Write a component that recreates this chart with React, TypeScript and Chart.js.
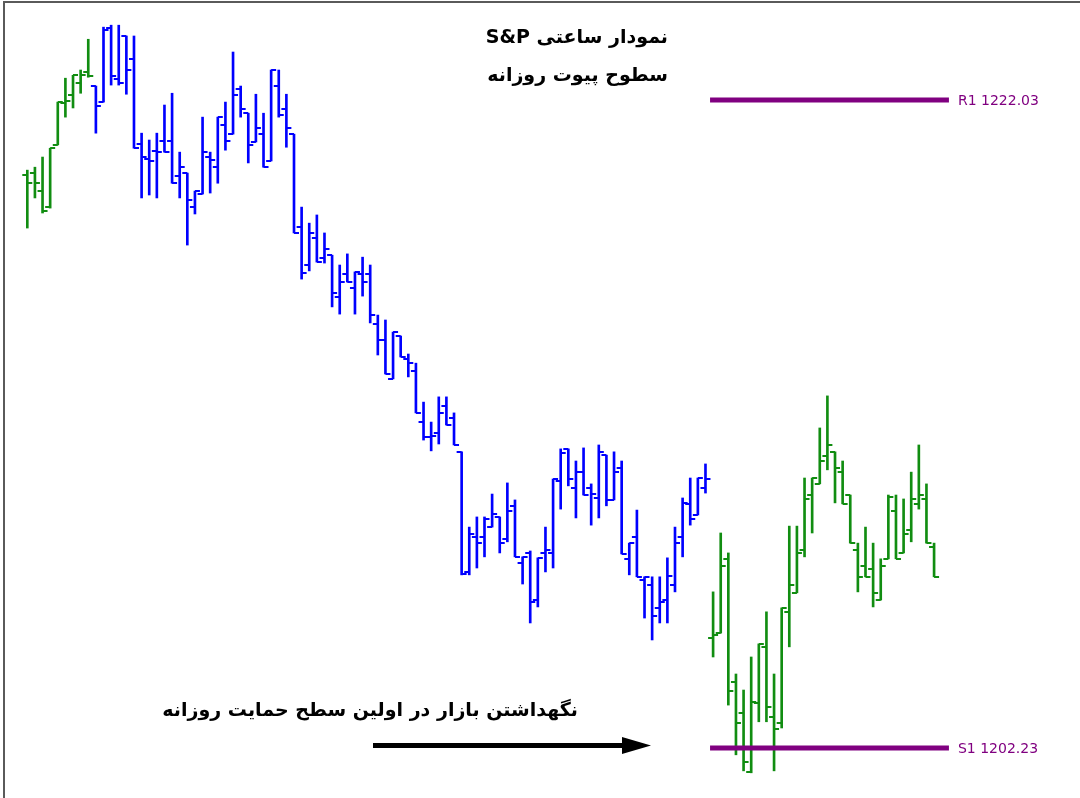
import { useEffect, useRef } from 'react';
import { Chart, registerables } from 'chart.js';

Chart.register(...registerables);

// Hourly S&P bars (price values)
const HIGHS = [
  1219.89, 1219.98, 1220.29, 1220.56, 1221.97, 1222.70, 1222.79, 1222.95, 1223.89, 1222.46,
  1224.26, 1224.32, 1224.32, 1223.99, 1223.99, 1221.02, 1220.81, 1221.02, 1221.88, 1222.24,
  1220.44, 1219.80, 1219.25, 1221.51, 1220.44, 1221.51, 1221.97, 1223.50, 1222.46, 1221.63,
  1222.21, 1221.63, 1222.95, 1222.95, 1222.21, 1220.99, 1218.76, 1218.27, 1218.52, 1217.97,
  1217.29, 1216.99, 1217.33, 1216.78, 1217.23, 1216.99, 1215.46, 1215.31, 1214.94, 1214.82,
  1214.27, 1213.99, 1212.80, 1212.19, 1212.96, 1212.96, 1212.47, 1211.28, 1208.98, 1209.29,
  1209.29, 1209.99, 1209.29, 1210.33, 1209.81, 1208.07, 1208.25, 1208.04, 1208.98, 1210.45,
  1211.37, 1211.37, 1211.00, 1211.40, 1210.30, 1211.49, 1211.18, 1211.28, 1211.00, 1208.49,
  1209.50, 1207.46, 1207.46, 1207.46, 1208.04, 1208.98, 1209.87, 1210.48, 1210.48, 1210.91,
  1207.00, 1208.80, 1208.19, 1204.49, 1204.00, 1205.01, 1205.41, 1206.39, 1204.49, 1206.51,
  1209.01, 1209.01, 1210.48, 1210.48, 1212.01, 1212.99, 1211.28, 1211.00, 1209.96, 1208.49,
  1208.98, 1208.49, 1208.01, 1209.96, 1209.96, 1209.84, 1210.66, 1211.49, 1210.30, 1208.49,
];

const LOWS = [
  1218.12, 1219.04, 1218.58, 1218.73, 1220.66, 1221.51, 1221.79, 1222.24, 1222.73, 1221.02,
  1221.97, 1222.49, 1222.49, 1222.21, 1220.56, 1219.04, 1219.13, 1219.04, 1220.44, 1219.49,
  1219.04, 1217.60, 1218.55, 1219.16, 1219.19, 1219.49, 1220.50, 1220.99, 1221.51, 1220.11,
  1220.75, 1219.98, 1220.17, 1221.51, 1220.59, 1217.97, 1216.56, 1216.81, 1217.08, 1217.05,
  1215.71, 1215.49, 1216.47, 1215.49, 1216.04, 1215.22, 1214.24, 1213.66, 1213.51, 1214.18,
  1213.57, 1212.47, 1211.64, 1211.31, 1211.52, 1212.10, 1211.49, 1207.52, 1207.52, 1207.73,
  1208.07, 1208.98, 1208.19, 1208.53, 1208.07, 1207.24, 1206.05, 1206.54, 1207.61, 1207.73,
  1209.53, 1210.24, 1209.26, 1209.96, 1209.04, 1209.26, 1209.63, 1209.81, 1208.16, 1207.52,
  1207.46, 1206.20, 1205.53, 1206.05, 1206.05, 1207.00, 1208.07, 1209.04, 1209.35, 1210.02,
  1205.01, 1205.74, 1203.54, 1202.02, 1201.53, 1201.47, 1203.03, 1203.03, 1201.53, 1202.84,
  1205.32, 1206.97, 1208.07, 1208.80, 1210.30, 1210.73, 1209.72, 1209.69, 1208.49, 1207.00,
  1207.46, 1206.54, 1206.75, 1208.01, 1208.01, 1208.19, 1208.53, 1209.53, 1208.49, 1207.46,
];

const OPENS = [
  1219.74, 1219.80, 1219.25, 1218.76, 1220.66, 1221.94, 1222.18, 1222.55, 1222.89, 1222.46,
  1221.97, 1224.23, 1222.67, 1223.99, 1223.28, 1220.69, 1220.23, 1220.47, 1220.78, 1220.78,
  1219.71, 1219.80, 1218.76, 1219.16, 1220.29, 1219.98, 1221.27, 1220.99, 1222.37, 1221.63,
  1220.75, 1220.99, 1220.17, 1222.46, 1221.76, 1220.99, 1218.15, 1216.99, 1217.81, 1217.20,
  1217.29, 1216.01, 1216.71, 1216.29, 1216.71, 1216.71, 1215.19, 1214.70, 1213.51, 1214.82,
  1214.12, 1213.75, 1212.19, 1211.73, 1211.86, 1212.68, 1212.31, 1211.28, 1207.61, 1208.68,
  1208.68, 1208.98, 1209.29, 1208.62, 1209.63, 1207.88, 1208.19, 1206.75, 1208.19, 1208.19,
  1210.39, 1211.37, 1210.18, 1210.66, 1210.18, 1209.87, 1211.18, 1209.81, 1210.79, 1208.01,
  1208.68, 1207.36, 1207.21, 1206.51, 1206.75, 1207.21, 1208.68, 1209.69, 1209.35, 1210.18,
  1205.59, 1205.74, 1208.01, 1204.25, 1203.30, 1201.50, 1203.61, 1205.32, 1203.18, 1202.99,
  1206.39, 1206.97, 1208.28, 1209.96, 1210.30, 1211.15, 1211.28, 1210.66, 1209.96, 1208.28,
  1207.79, 1207.70, 1206.75, 1208.01, 1209.47, 1208.19, 1208.89, 1209.69, 1209.84, 1208.37,
];

const CLOSES = [
  1219.49, 1219.49, 1218.64, 1220.56, 1221.97, 1222.00, 1222.79, 1222.79, 1222.76, 1221.85,
  1224.17, 1222.76, 1222.55, 1222.95, 1220.56, 1220.29, 1220.17, 1220.44, 1220.44, 1219.49,
  1219.98, 1218.97, 1219.25, 1220.44, 1220.20, 1221.51, 1220.78, 1222.18, 1221.76, 1220.66,
  1221.18, 1219.98, 1222.95, 1221.57, 1221.18, 1217.97, 1216.74, 1217.97, 1217.08, 1217.48,
  1216.13, 1216.47, 1216.47, 1216.78, 1216.47, 1215.46, 1214.70, 1213.66, 1214.94, 1214.18,
  1213.99, 1212.47, 1211.73, 1211.76, 1212.47, 1212.10, 1211.49, 1207.55, 1208.77, 1208.49,
  1209.23, 1209.38, 1208.49, 1209.47, 1208.07, 1208.07, 1206.69, 1208.04, 1208.28, 1210.45,
  1211.24, 1210.45, 1210.66, 1209.96, 1209.99, 1211.28, 1209.81, 1210.66, 1208.16, 1208.49,
  1207.46, 1207.46, 1206.26, 1206.69, 1207.49, 1208.49, 1209.72, 1209.23, 1210.48, 1210.45,
  1205.68, 1207.79, 1203.97, 1202.99, 1201.80, 1203.64, 1205.41, 1203.48, 1202.81, 1206.51,
  1207.21, 1208.19, 1209.84, 1210.48, 1211.00, 1211.49, 1210.79, 1209.69, 1208.49, 1207.46,
  1207.46, 1206.97, 1207.79, 1209.90, 1208.01, 1208.77, 1209.84, 1209.96, 1208.49, 1207.46,
];

// bars drawn in blue (the rest are green)
const BLUE_BARS = [9, 89];

// daily pivot levels
const PIVOT_LABELS = ['R1', 'S1'];
const PIVOT_VALUES = [1222.03, 1202.23];
const PIVOT_SPAN = [89.6, 120.95];

const TITLE_LINES = ['نمودار ساعتی S&P', 'سطوح پیوت روزانه'];
const NOTE_TEXT = 'نگهداشتن بازار در اولین سطح حمایت روزانه';

const X_MIN = -3.583;
const X_MAX = 138.15;
const Y_MIN = 1200.70;
const Y_MAX = 1225.09;

const GREEN = '#118d11';
const BLUE = '#0000ff';
const PURPLE = '#800080';

export default function App() {
  const ref = useRef<HTMLCanvasElement>(null);

  useEffect(() => {
    const canvas = ref.current;
    if (!canvas) return;
    const colors = HIGHS.map((_, i) => (i >= BLUE_BARS[0] && i <= BLUE_BARS[1] ? BLUE : GREEN));

    const framePlugin = {
      id: 'frame',
      beforeDraw(chart: any) {
        const { ctx } = chart;
        ctx.save();
        ctx.fillStyle = '#ffffff';
        ctx.fillRect(0, 0, chart.width, chart.height);
        ctx.strokeStyle = '#5a5a5a';
        ctx.lineWidth = 2;
        ctx.beginPath();
        ctx.moveTo(4, chart.height);
        ctx.lineTo(4, 2);
        ctx.lineTo(chart.width, 2);
        ctx.stroke();
        ctx.restore();
      },
    };

    const ticksPlugin = {
      id: 'ohlcTicks',
      afterDatasetsDraw(chart: any) {
        const { ctx } = chart;
        const xs = chart.scales.x;
        const ys = chart.scales.y;
        ctx.save();
        ctx.lineWidth = 2;
        ctx.lineCap = 'butt';
        for (let i = 0; i < HIGHS.length; i++) {
          const px = xs.getPixelForValue(i);
          const yo = Math.round(ys.getPixelForValue(OPENS[i]));
          const yc = Math.round(ys.getPixelForValue(CLOSES[i]));
          ctx.strokeStyle = colors[i];
          ctx.beginPath();
          ctx.moveTo(px - 5, yo);
          ctx.lineTo(px, yo);
          ctx.moveTo(px, yc);
          ctx.lineTo(px + 5, yc);
          ctx.stroke();
        }
        ctx.restore();
      },
    };

    const textPlugin = {
      id: 'texts',
      afterDraw(chart: any) {
        const { ctx } = chart;
        const xs = chart.scales.x;
        const ys = chart.scales.y;
        ctx.save();
        // pivot labels
        ctx.font = '14px "DejaVu Sans"';
        ctx.fillStyle = PURPLE;
        ctx.textBaseline = 'middle';
        ctx.textAlign = 'left';
        ctx.direction = 'ltr';
        PIVOT_VALUES.forEach((v, k) => {
          const x = xs.getPixelForValue(PIVOT_SPAN[1]) + 9;
          const y = ys.getPixelForValue(v) + 1.5;
          ctx.fillText(`${PIVOT_LABELS[k]} ${v.toFixed(2)}`, x, y);
        });
        // titles
        ctx.fillStyle = '#000000';
        ctx.font = 'bold 19px "DejaVu Sans"';
        ctx.direction = 'rtl';
        ctx.textAlign = 'right';
        ctx.fillText(TITLE_LINES[0], 668, 38);
        ctx.fillText(TITLE_LINES[1], 668, 76);
        ctx.fillText(NOTE_TEXT, 578, 711);
        // arrow
        ctx.fillStyle = '#000000';
        ctx.fillRect(373, 743, 252, 5);
        ctx.beginPath();
        ctx.moveTo(622, 737);
        ctx.lineTo(651, 745.5);
        ctx.lineTo(622, 754);
        ctx.closePath();
        ctx.fill();
        ctx.restore();
      },
    };

    const chart = new Chart(canvas, {
      type: 'bar',
      data: {
        datasets: [
          {
            type: 'bar',
            data: HIGHS.map((h, i) => ({ x: i, y: [LOWS[i], h] })) as any,
            backgroundColor: colors,
            borderWidth: 0,
            barThickness: 2,
            grouped: false,
            order: 2,
          },
          ...PIVOT_VALUES.map((v) => ({
            type: 'line' as const,
            data: PIVOT_SPAN.map((x) => ({ x, y: v })) as any,
            borderColor: PURPLE,
            borderWidth: 5,
            borderCapStyle: 'butt' as const,
            pointRadius: 0,
            fill: false,
            order: 1,
          })),
        ],
      },
      options: {
        animation: false,
        responsive: false,
        devicePixelRatio: 1,
        layout: { padding: 0 },
        plugins: {
          legend: { display: false },
          tooltip: { enabled: false },
          title: { display: false },
        },
        scales: {
          x: { type: 'linear', min: X_MIN, max: X_MAX, display: false, offset: false },
          y: { type: 'linear', min: Y_MIN, max: Y_MAX, display: false },
        },
      },
      plugins: [framePlugin, ticksPlugin, textPlugin],
    } as any);
    return () => chart.destroy();
  }, []);

  return (
    <div style={{ position: 'fixed', left: 0, top: 0, width: 1080, height: 798, background: '#ffffff' }}>
      <canvas ref={ref} width={1080} height={798} style={{ display: 'block' }} />
    </div>
  );
}
